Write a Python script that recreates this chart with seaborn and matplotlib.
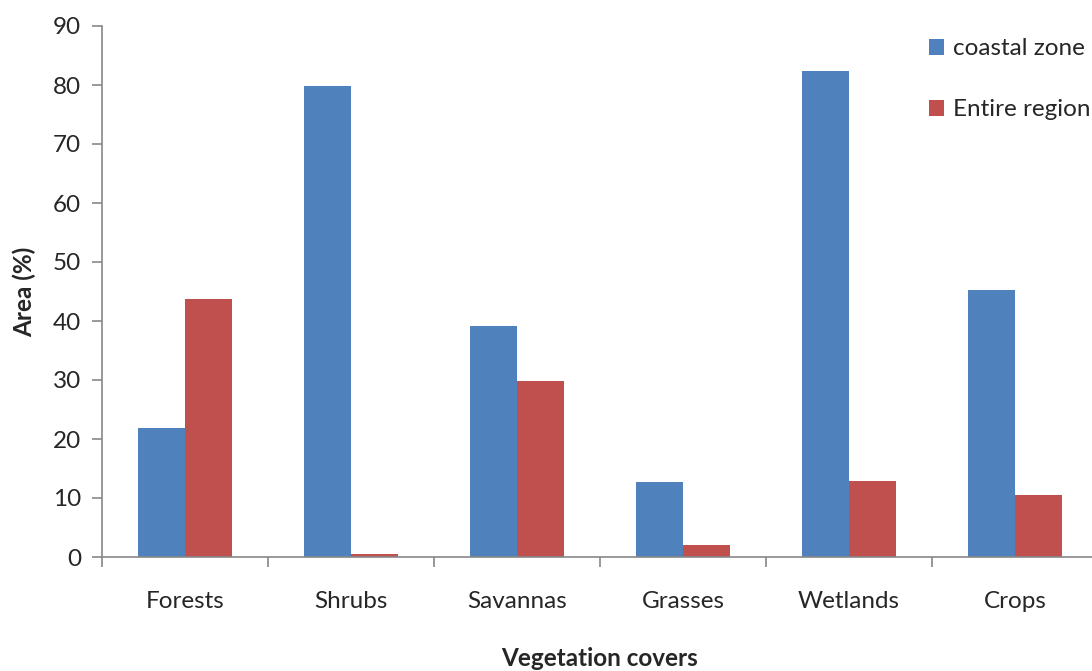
import matplotlib
matplotlib.use("Agg")
import matplotlib.pyplot as plt
import seaborn as sns
import pandas as pd

categories = ["Forests", "Shrubs", "Savannas", "Grasses", "Wetlands", "Crops"]
coastal_zone = [21.9, 79.8, 39.2, 12.7, 82.4, 45.3]
entire_region = [43.7, 0.5, 29.8, 2.0, 12.9, 10.5]
series_names = ["coastal zone", "Entire region"]
y_ticks = [0, 10, 20, 30, 40, 50, 60, 70, 80, 90]

df = pd.DataFrame({
    "cover": categories * 2,
    "area": coastal_zone + entire_region,
    "series": [series_names[0]] * len(categories) + [series_names[1]] * len(categories),
})

sns.set_theme(style="white")
plt.rcParams["font.family"] = ["Lato", "DejaVu Sans"]

fig = plt.figure(figsize=(10.92, 6.71), dpi=100)
ax = fig.add_axes([102 / 1092, (671 - 557) / 671, (1098 - 102) / 1092, (557 - 26) / 671])

palette = {"coastal zone": "#4F81BD", "Entire region": "#C0504D"}
sns.barplot(data=df, x="cover", y="area", hue="series", order=categories,
            hue_order=series_names, palette=palette, width=0.566, ax=ax,
            saturation=1, linewidth=0, legend=True)

ax.set_xlim(-0.5, 5.5)
ax.set_ylim(0, 90)
ax.set_yticks(y_ticks)
# category boundaries carry the tick marks, category centres carry the labels
ax.set_xticks([i - 0.5 for i in range(len(categories) + 1)], minor=False)
ax.set_xticklabels([])
ax.set_xticks(range(len(categories)), minor=True)
ax.set_xticklabels(categories, minor=True)

axis_color = "#888888"
text_color = "#262626"
fs = 17.5
for side in ["top", "right"]:
    ax.spines[side].set_visible(False)
for side in ["left", "bottom"]:
    ax.spines[side].set_color(axis_color)
    ax.spines[side].set_linewidth(1.2)

ax.tick_params(axis="y", which="major", direction="out", length=7, width=1.2,
               color=axis_color, pad=8, labelsize=fs, labelcolor=text_color, left=True)
ax.tick_params(axis="x", which="major", direction="out", length=7, width=1.2,
               color=axis_color, bottom=True)
ax.tick_params(axis="x", which="minor", length=0, pad=24.5, labelsize=fs,
               labelcolor=text_color)

ax.set_xlabel("Vegetation covers", fontsize=fs, fontweight="bold", labelpad=25,
              color=text_color)
ax.set_ylabel("Area (%)", fontsize=fs, fontweight="bold", labelpad=12,
              color=text_color)

leg = ax.legend(loc="upper left", bbox_to_anchor=(0.821, 0.995), frameon=False,
                fontsize=fs, handlelength=0.6, handleheight=0.6, handletextpad=0.35,
                labelspacing=1.65, borderaxespad=0)
for t in leg.get_texts():
    t.set_color(text_color)

fig.savefig("out.png", dpi=100)
